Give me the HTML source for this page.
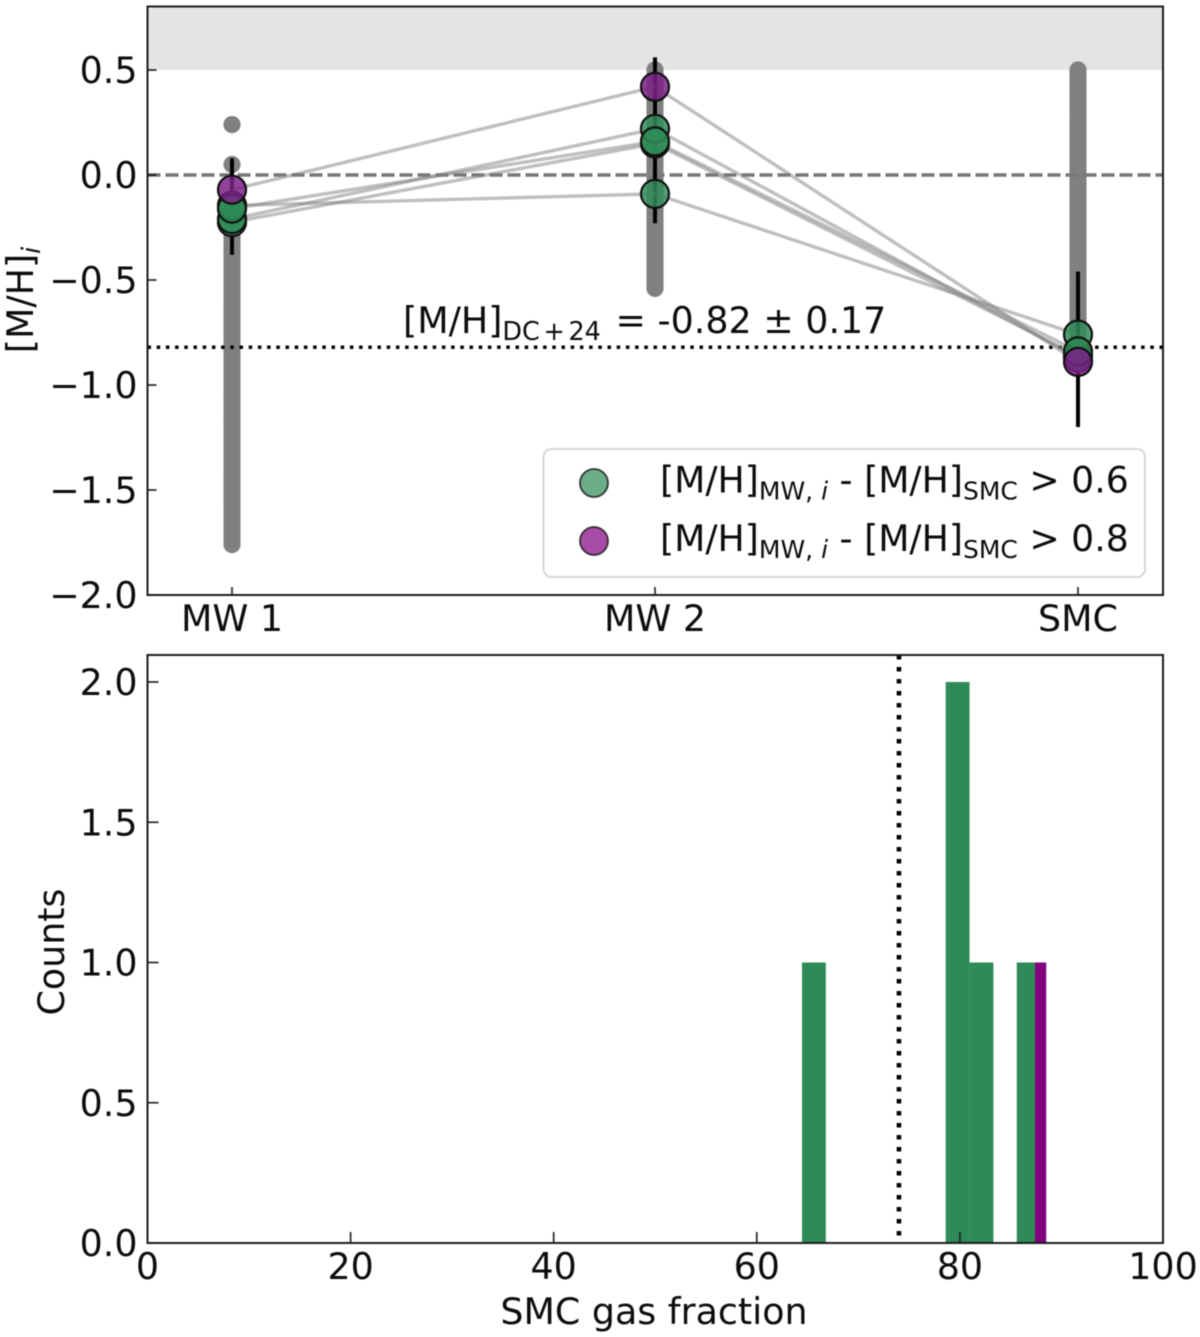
<!DOCTYPE html>
<html lang="en">
<head>
<meta charset="utf-8">
<title>Metallicity and gas fraction</title>
<style>
html,body{margin:0;padding:0;background:#fff;width:1200px;height:1337px;overflow:hidden}
svg{display:block;filter:blur(0.45px)}
text{font-family:"DejaVu Sans","Liberation Sans",sans-serif;fill:#0c0c0c;font-size:36.4px}
.sub{font-size:25.5px}
.legend-text{font-size:36.2px}
.legend-text .sub{font-size:25px}
</style>
</head>
<body>
<svg id="chart" width="1200" height="1337" viewBox="0 0 1200 1337" xmlns="http://www.w3.org/2000/svg">
  <g id="top-marks"></g>
  <g id="bottom-marks"></g>
  <g id="axes-layer"></g>

  <text transform="translate(33,300) rotate(-90)" text-anchor="middle">[M/H]<tspan class="sub" dy="7" font-style="italic">i</tspan></text>
  <text transform="translate(64,952) rotate(-90)" text-anchor="middle">Counts</text>
  <text x="654" y="1324" text-anchor="middle">SMC gas fraction</text>

  <text x="403" y="333">[M/H]<tspan class="sub" dy="7" word-spacing="-4.5">DC + 24</tspan><tspan dy="-7" dx="3"> = -0.82 ± 0.17</tspan></text>

  <g>
    <rect x="543.5" y="449" width="601.5" height="128" rx="8" fill="#fff" fill-opacity="0.8" stroke="#d6d6d6" stroke-width="2"></rect>
    <circle cx="594" cy="483" r="14" fill="#2e8b57" fill-opacity="0.7" stroke="#1a1a1a" stroke-opacity="0.85" stroke-width="1.8"></circle>
    <text class="legend-text" x="660" y="492.5">[M/H]<tspan class="sub" dy="7">MW, </tspan><tspan class="sub" font-style="italic">i</tspan><tspan dy="-7"> - [M/H]</tspan><tspan class="sub" dy="7">SMC</tspan><tspan dy="-7"> &gt; 0.6</tspan></text>
    <circle cx="594" cy="541" r="14" fill="#800080" fill-opacity="0.7" stroke="#1a1a1a" stroke-opacity="0.85" stroke-width="1.8"></circle>
    <text class="legend-text" x="660" y="551">[M/H]<tspan class="sub" dy="7">MW, </tspan><tspan class="sub" font-style="italic">i</tspan><tspan dy="-7"> - [M/H]</tspan><tspan class="sub" dy="7">SMC</tspan><tspan dy="-7"> &gt; 0.8</tspan></text>
  </g>
</svg>

<script>
// ---- data: top panel ----
const categories = ['MW 1', 'MW 2', 'SMC'];
const yTicksTop = [0.5, 0.0, -0.5, -1.0, -1.5, -2.0];
const yTickLabelsTop = ['0.5', '0.0', '\u22120.5', '\u22121.0', '\u22121.5', '\u22122.0'];
const upperLimit = 0.5;
const referenceSolar = 0.0;
const referenceDC24 = -0.82;

const greyMW1 = [0.24, 0.05, -0.26, -0.28, -0.3, -0.32, -0.34, -0.36, -0.38, -0.4, -0.42, -0.44, -0.46, -0.48, -0.5, -0.52, -0.54, -0.56, -0.58, -0.6, -0.62, -0.64, -0.66, -0.68, -0.7, -0.72, -0.74, -0.76, -0.78, -0.8, -0.82, -0.84, -0.86, -0.88, -0.9, -0.92, -0.94, -0.96, -0.98, -1.0, -1.02, -1.04, -1.06, -1.08, -1.1, -1.12, -1.14, -1.16, -1.18, -1.2, -1.22, -1.24, -1.26, -1.28, -1.3, -1.32, -1.34, -1.36, -1.38, -1.4, -1.42, -1.44, -1.46, -1.48, -1.5, -1.52, -1.54, -1.56, -1.58, -1.6, -1.62, -1.64, -1.66, -1.68, -1.7, -1.72, -1.74, -1.76];
const greyMW2 = [0.5, 0.48, 0.46, 0.44, 0.42, 0.4, 0.38, 0.36, 0.34, 0.32, 0.3, 0.28, 0.26, 0.24, 0.22, 0.2, 0.18, 0.16, 0.14, 0.12, 0.1, 0.08, 0.06, 0.04, 0.02, 0.0, -0.02, -0.04, -0.06, -0.08, -0.1, -0.12, -0.14, -0.16, -0.18, -0.2, -0.22, -0.24, -0.26, -0.28, -0.3, -0.32, -0.34, -0.36, -0.38, -0.4, -0.42, -0.44, -0.46, -0.48, -0.5, -0.52, -0.54];
const greySMC = [0.5, 0.48, 0.46, 0.44, 0.42, 0.4, 0.38, 0.36, 0.34, 0.32, 0.3, 0.28, 0.26, 0.24, 0.22, 0.2, 0.18, 0.16, 0.14, 0.12, 0.1, 0.08, 0.06, 0.04, 0.02, 0.0, -0.02, -0.04, -0.06, -0.08, -0.1, -0.12, -0.14, -0.16, -0.18, -0.2, -0.22, -0.24, -0.26, -0.28, -0.3, -0.32, -0.34, -0.36, -0.38, -0.4, -0.42, -0.44, -0.46, -0.48, -0.5, -0.52, -0.54, -0.56, -0.58, -0.6, -0.62, -0.64, -0.66, -0.68, -0.7, -0.72, -0.74, -0.76];

const errHigh = [0.08, 0.56, -0.46];
const errLow = [-0.38, -0.23, -1.20];

const seriesA = [-0.225, 0.15, -0.86];
const seriesB = [-0.21, 0.22, -0.87];
const seriesC = [-0.145, -0.09, -0.76];
const seriesD = [-0.16, 0.16, -0.84];
const seriesPurple = [-0.07, 0.42, -0.89];

// ---- data: bottom panel ----
const xTicksBottom = [0, 20, 40, 60, 80, 100];
const yTicksBottom = [0, 0.5, 1, 1.5, 2];
const yTickLabelsBottom = ['0.0', '0.5', '1.0', '1.5', '2.0'];
const greenBinStart = [64.45, 78.6, 80.95, 85.6];
const greenBinEnd = [66.8, 80.95, 83.3, 87.95];
const greenCounts = [1, 2, 1, 1];
const purpleBinStart = [87.4];
const purpleBinEnd = [88.5];
const purpleCounts = [1];
const medianGasFraction = 74;

// ---- axis functions ----
const L = 147.5, R = 1163;
const topT = 6.5, topB = 595;
const botT = 655, botB = 1243;
const xCat = i => 232 + 423 * i;
const yTop = v => 175 - 210 * v;
const xBot = v => L + (R - L) * v / 100;
const yBot = v => botB - 280.5 * v;

const NS = 'http://www.w3.org/2000/svg';
function make(tag, attrs, parent) {
  const e = document.createElementNS(NS, tag);
  for (const k in attrs) e.setAttribute(k, attrs[k]);
  parent.appendChild(e);
  return e;
}
const topG = document.getElementById('top-marks');
const botG = document.getElementById('bottom-marks');
const axG = document.getElementById('axes-layer');
let el;

// excluded region band
el = make('rect', {x: L, y: topT, width: R - L, height: yTop(upperLimit) - topT, fill: '#e4e4e4'}, topG);



// grey model columns
[greyMW1, greyMW2, greySMC].forEach((vals, i) => {
  vals.forEach(v => {
    const p = make('circle', {cx: xCat(i), cy: yTop(v), r: 8.6, fill: '#808080'}, topG);
    
    
  });
});

// reference lines
el = make('line', {x1: L, x2: R, y1: yTop(referenceSolar), y2: yTop(referenceSolar), stroke: '#777', 'stroke-width': 3.4, 'stroke-dasharray': '13 5'}, topG);


el = make('line', {x1: L, x2: R, y1: yTop(referenceDC24), y2: yTop(referenceDC24), stroke: '#000', 'stroke-width': 3.5, 'stroke-dasharray': '3.5 5.7'}, topG);



// error bars
categories.forEach((c, i) => {
  const b = make('line', {x1: xCat(i), x2: xCat(i), y1: yTop(errHigh[i]), y2: yTop(errLow[i]), stroke: '#000', 'stroke-width': 4}, topG);
  
  
});

// connecting lines and markers
const allSeries = [seriesA, seriesB, seriesC, seriesD, seriesPurple];
allSeries.forEach(s => {
  const pl = make('polyline', {points: s.map((v, i) => xCat(i) + ',' + yTop(v)).join(' '), fill: 'none', stroke: '#808080', 'stroke-opacity': 0.5, 'stroke-width': 3.4}, topG);
  
  
});
allSeries.forEach((s, k) => {
  const purple = s === seriesPurple;
  s.forEach((v, i) => {
    const m = make('circle', {cx: xCat(i), cy: yTop(v), r: 14, fill: purple ? '#7a1f86' : '#2e8b57', 'fill-opacity': 0.84, stroke: '#111', 'stroke-width': 2.2}, topG);
    
    
  });
});

// histogram
greenCounts.forEach((c, i) => {
  const r = make('rect', {x: xBot(greenBinStart[i]), y: yBot(c), width: xBot(greenBinEnd[i]) - xBot(greenBinStart[i]), height: yBot(0) - yBot(c), fill: '#2e8b57'}, botG);
  
  
});
purpleCounts.forEach((c, i) => {
  const r = make('rect', {x: xBot(purpleBinStart[i]), y: yBot(c), width: xBot(purpleBinEnd[i]) - xBot(purpleBinStart[i]), height: yBot(0) - yBot(c), fill: '#800080'}, botG);
  
  
});
el = make('line', {x1: xBot(medianGasFraction), x2: xBot(medianGasFraction), y1: botT, y2: botB, stroke: '#000', 'stroke-width': 4.6, 'stroke-dasharray': '4.5 7.5'}, botG);



// frames
el = make('rect', {x: L, y: topT, width: R - L, height: topB - topT, fill: 'none', stroke: '#1c1c1c', 'stroke-width': 2}, axG);


el = make('rect', {x: L, y: botT, width: R - L, height: botB - botT, fill: 'none', stroke: '#1c1c1c', 'stroke-width': 2}, axG);



// ticks and tick labels
yTicksTop.forEach((v, i) => {
  const t = make('line', {x1: L, x2: L + 9, y1: yTop(v), y2: yTop(v), stroke: '#1c1c1c', 'stroke-width': 1.6}, axG);
  
  
  const l = make('text', {x: 137.5, y: yTop(v) + 13, 'text-anchor': 'end'}, axG);
  l.textContent = yTickLabelsTop[i];
  
  
});
categories.forEach((c, i) => {
  const t = make('line', {x1: xCat(i), x2: xCat(i), y1: topB, y2: topB - 8, stroke: '#1c1c1c', 'stroke-width': 1.6}, axG);
  
  
  const l = make('text', {x: xCat(i), y: 631, 'text-anchor': 'middle'}, axG);
  l.textContent = c;
  
  
});
yTicksBottom.forEach((v, i) => {
  const t = make('line', {x1: L, x2: L + 11, y1: yBot(v), y2: yBot(v), stroke: '#1c1c1c', 'stroke-width': 1.6}, axG);
  
  
  const l = make('text', {x: 137.5, y: yBot(v) + 13, 'text-anchor': 'end'}, axG);
  l.textContent = yTickLabelsBottom[i];
  
  
});
xTicksBottom.forEach(v => {
  const t = make('line', {x1: xBot(v), x2: xBot(v), y1: botB, y2: botB - 11, stroke: '#1c1c1c', 'stroke-width': 1.6}, axG);
  
  
  const l = make('text', {x: xBot(v), y: 1279, 'text-anchor': 'middle'}, axG);
  l.textContent = String(v);
  
  
});
</script>
</body>
</html>
